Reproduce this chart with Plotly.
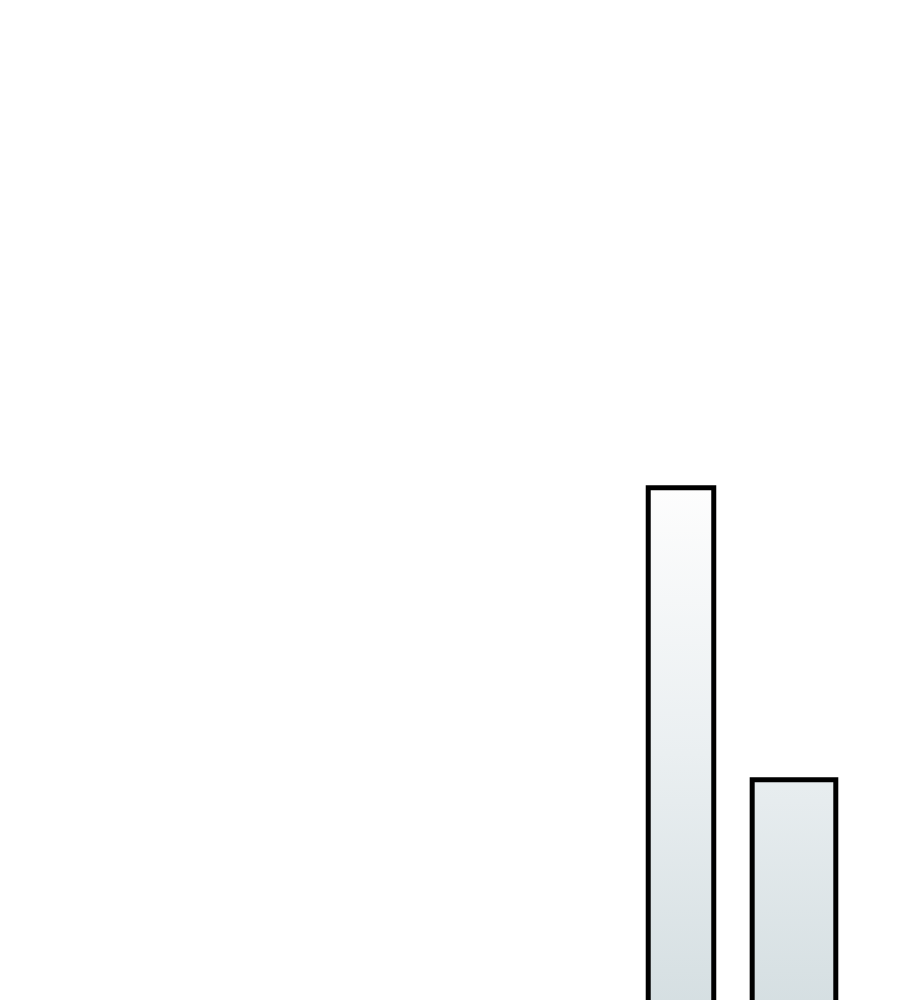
import plotly.graph_objects as go

# two bars, tall one then short one
positions = [1, 2]
values = [52.5, 23.6]
bar_widths = [0.58, 0.74]

# gradient fill + outline, built from the bar values
gx, gy = [], []
for x, v, w in zip(positions, values, bar_widths):
    x0, x1 = x - w / 2, x + w / 2
    gx += [x0, x0, x1, x1, x0, None]
    gy += [0, v, v, 0, 0, None]

fig = go.Figure()
fig.add_trace(go.Scatter(
    x=gx, y=gy,
    mode="lines",
    line=dict(color="#000000", width=5),
    fill="toself",
    fillgradient=dict(
        type="vertical",
        colorscale=[[0, "#d4dee1"], [0.5, "#eaeff1"], [1, "#fdfdfd"]],
        start=0, stop=max(values),
    ),
    hoverinfo="skip",
    showlegend=False,
))

fig.update_layout(
    width=900, height=1000,
    margin=dict(l=0, r=0, t=0, b=0),
    paper_bgcolor="#ffffff",
    plot_bgcolor="#ffffff",
    xaxis=dict(range=[-4.956, 3.009], visible=False),
    yaxis=dict(range=[1, 100], visible=False),
)

fig.write_html("out.html")
